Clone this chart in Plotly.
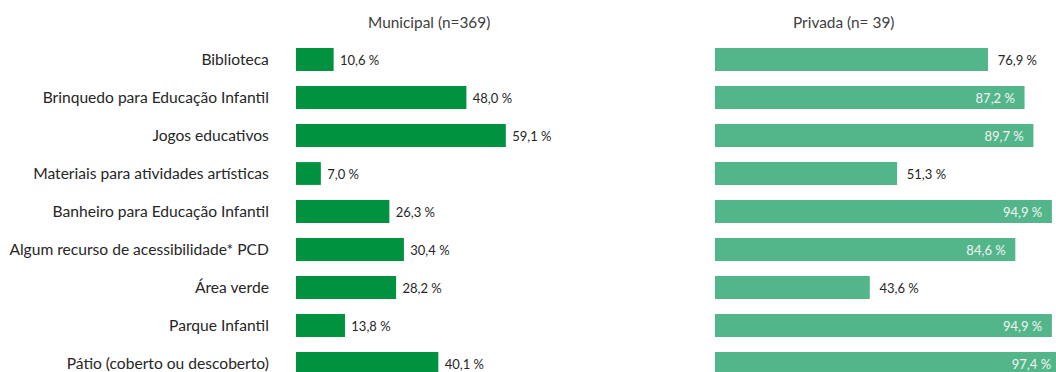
import plotly.graph_objects as go

categories = [
    "Biblioteca",
    "Brinquedo para Educação Infantil",
    "Jogos educativos",
    "Materiais para atividades artísticas",
    "Banheiro para Educação Infantil",
    "Algum recurso de acessibilidade* PCD",
    "Área verde",
    "Parque Infantil",
    "Pátio (coberto ou descoberto)",
]
municipal = [10.6, 48.0, 59.1, 7.0, 26.3, 30.4, 28.2, 13.8, 40.1]
privada = [76.9, 87.2, 89.7, 51.3, 94.9, 84.6, 43.6, 94.9, 97.4]
titles = ["Municipal (n=369)", "Privada (n= 39)"]

W, H = 1056, 372
NB = "\u00a0"
FONT = "Lato"
DARK = "#262626"


def fmt(v):
    return f"{v:.1f} %".replace(".", ",")


# left panel: all labels outside
m_text = [NB + fmt(v) for v in municipal]
m_pos = ["outside"] * len(municipal)

# right panel: inside labels for large values
p_pos = ["inside" if v > 80 else "outside" for v in privada]
p_text = [(fmt(v) + NB + NB) if pos == "inside" else (NB + NB + fmt(v))
          for v, pos in zip(privada, p_pos)]

fig = go.Figure()
fig.add_trace(go.Bar(
    y=categories, x=municipal, orientation="h", width=0.6,
    marker=dict(color="#00923f", line=dict(width=0)),
    text=m_text, textposition=m_pos, cliponaxis=False,
    textfont=dict(family=FONT, size=13, color=DARK),
    outsidetextfont=dict(family=FONT, size=13, color=DARK),
    xaxis="x", yaxis="y", hoverinfo="skip", showlegend=False,
))
fig.add_trace(go.Bar(
    y=categories, x=privada, orientation="h", width=0.6,
    marker=dict(color="#53b68a", line=dict(width=0)),
    text=p_text, textposition=p_pos, constraintext="none",
    insidetextanchor="end",
    insidetextfont=dict(family=FONT, size=13, color="#f4f4f4"),
    outsidetextfont=dict(family=FONT, size=13, color=DARK),
    xaxis="x2", yaxis="y2", hoverinfo="skip", showlegend=False,
))

top_px = 40
y_range = [(H - 59.5) / 38.0, (top_px - 59.5) / 38.0]

x1_dom = [296 / W, (296 + 355) / W]
x2_dom = [715 / W, 1.0]

title_y = 1 + (top_px - 22) / (H - top_px)

fig.update_layout(
    width=W, height=H,
    margin=dict(l=0, r=0, t=top_px, b=0),
    paper_bgcolor="white", plot_bgcolor="white",
    font=dict(family=FONT, color=DARK),
    xaxis=dict(domain=x1_dom, range=[0, 100], showgrid=False, zeroline=False,
               showticklabels=False, showline=False, fixedrange=True),
    xaxis2=dict(domain=x2_dom, range=[0, (W - 715) / 3.55], showgrid=False,
                zeroline=False, showticklabels=False, showline=False,
                anchor="y2"),
    yaxis=dict(type="category", categoryorder="array", categoryarray=categories,
               range=y_range, showgrid=False, zeroline=False, showline=False,
               ticks="outside", ticklen=23, tickcolor="rgba(0,0,0,0)",
               tickfont=dict(family=FONT, size=15.6, color=DARK),
               anchor="x"),
    yaxis2=dict(type="category", categoryorder="array", categoryarray=categories,
                range=y_range, showgrid=False, zeroline=False, showline=False,
                showticklabels=False, anchor="x2"),
    annotations=[
        dict(text=titles[0], x=429 / W, y=title_y, xref="paper", yref="paper",
             xanchor="center", yanchor="middle", showarrow=False,
             font=dict(family=FONT, size=15.4, color="#404040")),
        dict(text=titles[1], x=843 / W, y=title_y, xref="paper", yref="paper",
             xanchor="center", yanchor="middle", showarrow=False,
             font=dict(family=FONT, size=15.4, color="#404040")),
    ],
)

fig.write_html(
    "out.html",
    config={"displayModeBar": False, "staticPlot": True},
    post_script="document.body.style.margin='0';document.body.style.padding='0';",
)
